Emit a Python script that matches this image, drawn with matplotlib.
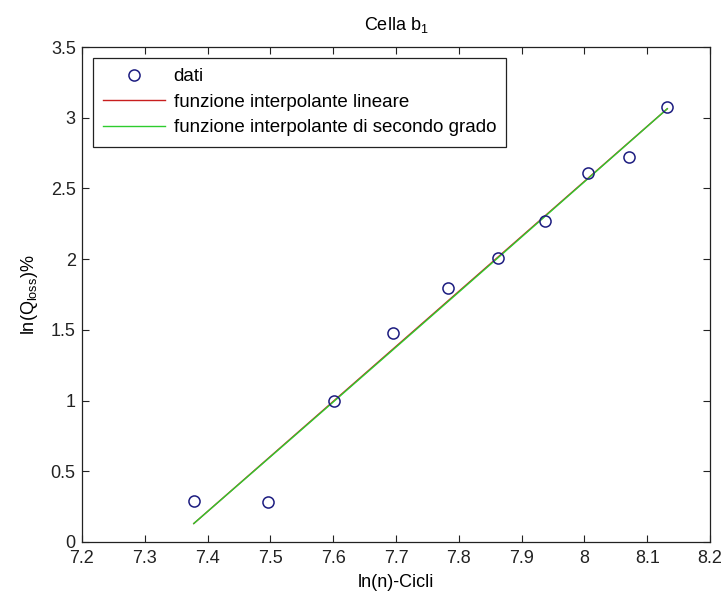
import matplotlib
matplotlib.use("Agg")
import matplotlib.pyplot as plt
import numpy as np

plt.rcParams['font.family'] = ['Liberation Sans', 'DejaVu Sans']
plt.rcParams['mathtext.fontset'] = 'custom'
plt.rcParams['mathtext.rm'] = 'Liberation Sans'
plt.rcParams['mathtext.it'] = 'Liberation Sans'

# ln(number of cycles) and ln(capacity loss %)
ln_cicli = [7.378, 7.496, 7.601, 7.696, 7.783, 7.863, 7.937, 8.006, 8.071, 8.132]
ln_qloss = [0.290, 0.284, 0.998, 1.476, 1.798, 2.009, 2.273, 2.608, 2.720, 3.077]

# polynomial coefficients of the interpolating functions (highest degree first)
coef_lineare = [3.89, -28.570]
coef_secondo = [0.04, 3.2696, -26.170]

x_ticks = [7.2, 7.3, 7.4, 7.5, 7.6, 7.7, 7.8, 7.9, 8.0, 8.1, 8.2]
y_ticks = [0, 0.5, 1, 1.5, 2, 2.5, 3, 3.5]

FS = 13

fig = plt.figure(figsize=(7.25, 5.99), dpi=100)
ax = fig.add_axes([0.1131, 0.0952, 0.8662, 0.8263])

xs = np.linspace(min(ln_cicli), max(ln_cicli), 200)

ax.plot(ln_cicli, ln_qloss, 'o', markerfacecolor='none', markeredgecolor='#1c1c80',
        markersize=8, markeredgewidth=1.1, label='dati', zorder=4)
ax.plot(xs, np.polyval(coef_lineare, xs), color='#c81e1e', lw=1.0,
        label='funzione interpolante lineare', zorder=2)
ax.plot(xs, np.polyval(coef_secondo, xs), color='#2ecc2e', lw=1.0,
        label='funzione interpolante di secondo grado', zorder=3)

ax.set_xlim(7.2, 8.2)
ax.set_ylim(0, 3.5)
ax.set_xticks(x_ticks)
ax.set_xticklabels(['7.2', '7.3', '7.4', '7.5', '7.6', '7.7', '7.8', '7.9', '8', '8.1', '8.2'])
ax.set_yticks(y_ticks)
ax.set_yticklabels(['0', '0.5', '1', '1.5', '2', '2.5', '3', '3.5'])

ax.tick_params(direction='in', length=5, width=0.8, top=True, right=True,
               labelsize=FS, colors='#222222')
ax.tick_params(axis='x', pad=6)
ax.tick_params(axis='y', pad=4.5)
for s in ax.spines.values():
    s.set_linewidth(0.9)
    s.set_color('#222222')

ax.set_xlabel('ln(n)-Cicli', fontsize=FS, labelpad=5)
ax.set_ylabel('ln(Q$_{\\mathrm{loss}}$)%', fontsize=FS, labelpad=8)
ax.set_title('Cella b$_1$', fontsize=FS, pad=12)

leg = ax.legend(loc='upper left', bbox_to_anchor=(0.0175, 0.978), fontsize=13.5,
                frameon=True, fancybox=False, edgecolor='#222222', framealpha=1,
                handlelength=3.3, handletextpad=0.45, borderpad=0.55,
                labelspacing=0.45, borderaxespad=0)
leg.get_frame().set_linewidth(0.9)

fig.savefig('out.png', dpi=100)
